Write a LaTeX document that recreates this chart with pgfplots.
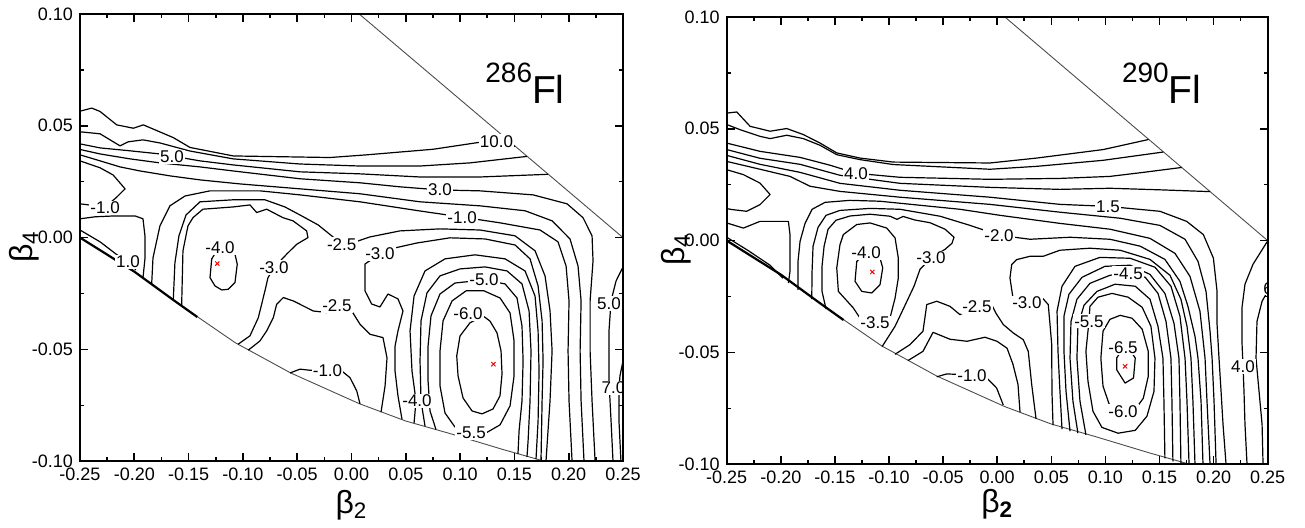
\documentclass[border=0pt]{standalone}
\usepackage{fontspec}
\setmainfont{Liberation Sans}
\usepackage{pgfplots}
\pgfplotsset{compat=1.18}

% contour line and label styles
\tikzset{
  cl/.style={black, line width=0.6pt, line join=round},
  lab/.style={font=\fontsize{8.5}{9}\selectfont, fill=white, inner sep=0.6pt},
}
\pgfplotsset{
  pes/.style={
    anchor=south west, scale only axis, height=223.7pt,
    xmin=-0.25, xmax=0.25, ymin=-0.10, ymax=0.10,
    xtick={-0.25,-0.2,-0.15,-0.1,-0.05,0,0.05,0.1,0.15,0.2,0.25},
    ytick={-0.1,-0.05,0,0.05,0.1},
    minor x tick num=1, minor y tick num=1,
    tick pos=both, tick align=inside,
    major tick length=4pt, minor tick length=2pt,
    scaled ticks=false, axis on top,
    axis line style={line width=1pt},
    every tick/.append style={black, line width=0.8pt},
    tick label style={font=\fontsize{9}{10}\selectfont},
    label style={font=\fontsize{16}{16}\selectfont, anchor=center},
    /pgf/number format/fixed, /pgf/number format/fixed zerofill,
    /pgf/number format/precision=2, /pgf/number format/assume math mode=true,
  },
}
% boundary of the deformation domain
\newcommand\pesframe{%
  \addplot[black!70, line width=0.45pt] coordinates {(0.007,0.10) (0.25,0.0)};
  \addplot[black!70, line width=0.45pt] coordinates {(-0.25,0.0) (-0.20,-0.0152) (-0.164,-0.0279) (-0.14,-0.036) (-0.107,-0.047) (-0.056,-0.0605) (0.007,-0.0742) (0.05,-0.082) (0.09,-0.0875) (0.14,-0.0948) (0.178,-0.10)};
  \addplot[black, line width=1.1pt] coordinates {(-0.25,0.0) (-0.20,-0.0152) (-0.164,-0.0279) (-0.142,-0.0355)};
}
\newcommand\lab[3]{\node[lab] at (axis cs:#1,#2) {#3};}

\begin{document}
\begin{tikzpicture}
\path[use as bounding box] (-40pt,-32.85pt) rectangle (612.5pt,230.65pt);

% ---------------- 286Fl ----------------
\begin{axis}[pes, at={(0pt,0pt)}, width=271.5pt,
  xlabel={β\textsubscript{2}}, ylabel={β\textsubscript{4}},
  xlabel style={at={(axis description cs:0.5,-0.098)}},
  ylabel style={at={(axis description cs:-0.102,0.48)}}]
\pesframe
% upper band
\addplot[cl] coordinates {(-0.25,0.0565) (-0.2392,0.0579) (-0.2316,0.0564) (-0.2162,0.0504) (-0.2009,0.0489) (-0.1917,0.0504) (-0.1641,0.0447) (-0.1487,0.0403) (-0.1088,0.0365) (-0.0198,0.0358) (0.0140,0.0370) (0.0753,0.0395) (0.1165,0.0425) (0.1505,0.0408)};
\addplot[cl] coordinates {(-0.25,0.0473) (-0.2315,0.0464) (-0.2131,0.0410) (-0.2058,0.0428) (-0.1920,0.0437) (-0.1763,0.0423) (-0.1487,0.0387) (-0.1091,0.0352) (-0.0474,0.0329) (0.0078,0.0320) (0.0631,0.0320) (0.1091,0.0334) (0.1616,0.0363)};
\addplot[cl] coordinates {(-0.25,0.0419) (-0.2315,0.0401) (-0.2040,0.0388) (-0.1764,0.0374) (-0.1395,0.0343) (-0.1091,0.0325) (-0.0474,0.0294) (0.0078,0.0285) (0.0631,0.0271) (0.1183,0.0271) (0.1810,0.0283)};
\addplot[cl] coordinates {(-0.25,0.0394) (-0.2315,0.0374) (-0.2040,0.0352) (-0.1764,0.0334) (-0.1395,0.0316) (-0.1091,0.0298) (-0.0474,0.0263) (0.0078,0.0245) (0.0446,0.0227) (0.0815,0.0213) (0.1183,0.0209) (0.1672,0.0191) (0.1985,0.0151) (0.2132,0.0089) (0.2215,0.0008) (0.2224,-0.0104) (0.2197,-0.0283) (0.2197,-0.0507) (0.2215,-0.0730) (0.2243,-0.10)};
\addplot[cl] coordinates {(-0.25,0.0370) (-0.2315,0.0343) (-0.2131,0.0316) (-0.1948,0.0298) (-0.1672,0.0276) (-0.1395,0.0258) (-0.1027,0.0240) (-0.0474,0.0218) (0.0078,0.0196) (0.0631,0.0160) (0.1183,0.0142) (0.1598,0.0120) (0.1847,0.0075) (0.2012,-0.0006) (0.2086,-0.0127) (0.2114,-0.0283) (0.2105,-0.0507) (0.2114,-0.0730) (0.2141,-0.10)};
\addplot[cl] coordinates {(-0.25,0.0343) (-0.2315,0.0312) (-0.2195,0.0280) (-0.2085,0.0218) (-0.2168,0.0178) (-0.2269,0.0137) (-0.25,0.0151)};
\addplot[cl] coordinates {(-0.25,0.0084) (-0.2361,0.0093) (-0.2177,0.0097) (-0.1993,0.0097) (-0.1920,0.0084) (-0.1902,0.0008) (-0.1902,-0.0095) (-0.1920,-0.0180)};
\addplot[cl] coordinates {(-0.25,0.0034) (-0.2315,-0.0019) (-0.2159,-0.0077) (-0.2058,-0.0109) (-0.1985,-0.0145)};
\addplot[cl] coordinates {(-0.1840,-0.0208) (-0.1828,-0.0091) (-0.1764,0.0052) (-0.1672,0.0142) (-0.1533,0.0186) (-0.1303,0.0209) (-0.0843,0.0209) (-0.0474,0.0191) (0.0078,0.0160) (0.0631,0.0119) (0.0999,0.0093) (0.1368,0.0066) (0.1736,0.0034) (0.1902,-0.0019) (0.1976,-0.0127) (0.2003,-0.0283) (0.1994,-0.0507) (0.2003,-0.0730) (0.2031,-0.10)};
\addplot[cl] coordinates {(-0.1641,-0.0278) (-0.1626,-0.0113) (-0.1589,0.0008) (-0.1524,0.0101) (-0.1395,0.0160) (-0.1091,0.0169) (-0.0797,0.0169) (-0.0613,0.0137) (-0.0474,0.0101) (-0.0308,0.0057) (-0.0170,0.0003) (-0.0090,-0.0028) (0.0005,-0.0024) (0.0170,0.0003) (0.0446,0.0030) (0.0815,0.0039) (0.1183,0.0034) (0.1506,0.0008) (0.1690,-0.0059) (0.1782,-0.0171) (0.1828,-0.0327) (0.1847,-0.0506) (0.1828,-0.0730) (0.1791,-0.0998)};
% left minimum
\addplot[cl] coordinates {(-0.1564,-0.0303) (-0.1552,-0.0059) (-0.1506,0.0052) (-0.1460,0.0089) (-0.1368,0.0127) (-0.1091,0.0137) (-0.0935,0.0146) (-0.0873,0.0112) (-0.0781,0.0127) (-0.0631,0.0089) (-0.0539,0.0075) (-0.0413,0.0030) (-0.0401,0.0000) (-0.0505,-0.0030) (-0.0597,-0.0074) (-0.0714,-0.0134) (-0.0769,-0.0179) (-0.0797,-0.0238) (-0.0858,-0.0358) (-0.0935,-0.0439) (-0.1045,-0.0477)};
\addplot[cl] coordinates {(-0.1211,-0.0037) (-0.1287,-0.0095) (-0.1303,-0.0179) (-0.1257,-0.0216) (-0.1195,-0.0234) (-0.1135,-0.0231) (-0.1073,-0.0201) (-0.1052,-0.0119) (-0.1073,-0.0074) (-0.1137,-0.0046) (-0.1211,-0.0037)};
\addplot[cl] coordinates {(-0.0950,-0.0503) (-0.0843,-0.0462) (-0.0781,-0.0417) (-0.0720,-0.0358) (-0.0689,-0.0298) (-0.0628,-0.0268) (-0.0536,-0.0283) (-0.0352,-0.0328) (-0.0228,-0.0335) (-0.0134,-0.0305) (0.0002,-0.0328) (0.0078,-0.0387) (0.0170,-0.0432) (0.0290,-0.0447) (0.0327,-0.0538) (0.0309,-0.0663) (0.0272,-0.0780)};
\addplot[cl] coordinates {(-0.0566,-0.0605) (-0.0474,-0.0588) (-0.0382,-0.0593) (-0.0221,-0.0596) (-0.0090,-0.0596) (-0.0014,-0.0626) (0.0048,-0.0685) (0.0078,-0.0743)};
% right well
\addplot[cl] coordinates {(0.0465,-0.0812) (0.0428,-0.0708) (0.0401,-0.0597) (0.0401,-0.0485) (0.0428,-0.0417) (0.0474,-0.0328) (0.0428,-0.0274) (0.0336,-0.0252) (0.0262,-0.0310) (0.0186,-0.0297) (0.0124,-0.0238) (0.0124,-0.0118) (0.0262,-0.0073) (0.0401,-0.0046) (0.0603,-0.0024) (0.0907,-0.0001) (0.1230,-0.0006) (0.1506,-0.0033) (0.1644,-0.0095) (0.1718,-0.0216) (0.1755,-0.0372) (0.1764,-0.0551) (0.1755,-0.0730) (0.1745,-0.0994)};
\addplot[cl] coordinates {(0.0576,-0.0829) (0.0594,-0.0730) (0.0557,-0.0596) (0.0539,-0.0417) (0.0576,-0.0261) (0.0677,-0.0149) (0.0861,-0.0095) (0.1137,-0.0077) (0.1414,-0.0095) (0.1598,-0.0149) (0.1690,-0.0261) (0.1718,-0.0417) (0.1727,-0.0596) (0.1718,-0.0820) (0.1699,-0.0990)};
\addplot[cl] coordinates {(0.0677,-0.0843) (0.0640,-0.0730) (0.0631,-0.0551) (0.0640,-0.0372) (0.0695,-0.0247) (0.0815,-0.0171) (0.0999,-0.0140) (0.1230,-0.0131) (0.1432,-0.0149) (0.1570,-0.0207) (0.1635,-0.0328) (0.1653,-0.0507) (0.1644,-0.0730) (0.1626,-0.0909) (0.1616,-0.0980)};
\addplot[cl] coordinates {(0.0778,-0.0858) (0.0723,-0.0775) (0.0705,-0.0641) (0.0705,-0.0484) (0.0732,-0.0350) (0.0815,-0.0252) (0.0953,-0.0203) (0.1220,-0.0189) (0.1414,-0.0207) (0.1524,-0.0270) (0.1570,-0.0395) (0.1580,-0.0551) (0.1570,-0.0730) (0.1543,-0.0864) (0.1533,-0.0967)};
\addplot[cl] coordinates {(0.1101,-0.0873) (0.0953,-0.0847) (0.0861,-0.0784) (0.0815,-0.0663) (0.0815,-0.0507) (0.0843,-0.0372) (0.0926,-0.0283) (0.1055,-0.0238) (0.1220,-0.0238) (0.1368,-0.0270) (0.1460,-0.0337) (0.1497,-0.0462) (0.1497,-0.0618) (0.1460,-0.0752) (0.1368,-0.0837) (0.1239,-0.0873) (0.1101,-0.0873)};
\addplot[cl] coordinates {(0.1211,-0.0350) (0.1091,-0.0381) (0.0999,-0.0440) (0.0969,-0.0529) (0.0981,-0.0618) (0.1027,-0.0717) (0.1110,-0.0775) (0.1202,-0.0788) (0.1303,-0.0766) (0.1367,-0.0708) (0.1386,-0.0610) (0.1377,-0.0507) (0.1340,-0.0426) (0.1275,-0.0373) (0.1211,-0.0350)};
% steep right edge
\addplot[cl] coordinates {(0.25,-0.0131) (0.2436,-0.0194) (0.2390,-0.0283) (0.2371,-0.0417) (0.2371,-0.0641) (0.2390,-0.0820) (0.2408,-0.10)};
\addplot[cl] coordinates {(0.25,-0.0551) (0.2472,-0.0618) (0.2463,-0.0672) (0.2463,-0.0820) (0.2481,-0.10)};
% minima
\addplot[only marks, mark=x, red, mark size=1.5pt, mark options={line width=0.5pt}] coordinates {(-0.1236,-0.0116) (0.1307,-0.0566)};
\lab{0.1335}{0.0430}{10.0}
\lab{-0.1653}{0.0361}{5.0}
\lab{0.0815}{0.0213}{3.0}
\lab{0.1018}{0.0088}{-1.0}
\lab{-0.2269}{0.0133}{-1.0}
\lab{-0.2058}{-0.0109}{1.0}
\lab{-0.1211}{-0.0045}{-4.0}
\lab{-0.0714}{-0.0134}{-3.0}
\lab{-0.0090}{-0.0030}{-2.5}
\lab{0.0262}{-0.0073}{-3.0}
\lab{-0.0134}{-0.0305}{-2.5}
\lab{-0.0221}{-0.0596}{-1.0}
\lab{0.0603}{-0.0730}{-4.0}
\lab{0.1220}{-0.0189}{-5.0}
\lab{0.1073}{-0.0341}{-6.0}
\lab{0.1101}{-0.0873}{-5.5}
\lab{0.2370}{-0.0295}{5.0}
\node[lab, anchor=east] at (axis cs:0.2535,-0.0672) {7.0};
\node[anchor=base west, inner sep=0pt] at (axis cs:0.1229,0.0598) {\raisebox{10.5pt}{\fontsize{14}{14}\selectfont 286}\fontsize{19.5}{20}\selectfont Fl};
\end{axis}

% ---------------- 290Fl ----------------
\begin{axis}[pes, at={(323.35pt,-1.5pt)}, width=270.5pt,
  xlabel={β\textsubscript{\bfseries 2}}, ylabel={β\textsubscript{4}},
  xlabel style={at={(axis description cs:0.5,-0.089)}},
  ylabel style={at={(axis description cs:-0.093,0.48)}}]
\pesframe
\addplot[cl] coordinates {(-0.25,0.0570) (-0.2407,0.0575) (-0.2284,0.0511) (-0.2099,0.0489) (-0.1945,0.0501) (-0.1792,0.0474) (-0.1637,0.0436) (-0.1483,0.0392) (-0.1268,0.0369) (-0.0960,0.0351) (-0.0067,0.0347) (0.0365,0.0369) (0.0980,0.0407) (0.1399,0.0452)};
\addplot[cl] coordinates {(-0.25,0.0519) (-0.2377,0.0496) (-0.2192,0.0466) (-0.2099,0.0456) (-0.1945,0.0471) (-0.1792,0.0456) (-0.1637,0.0426) (-0.1483,0.0384) (-0.1268,0.0362) (-0.0960,0.0340) (-0.0067,0.0319) (0.0365,0.0332) (0.0980,0.0359) (0.1535,0.0396)};
\addplot[cl] coordinates {(-0.25,0.0436) (-0.2192,0.0399) (-0.1822,0.0372) (-0.1545,0.0337) (-0.1305,0.0301) (-0.0898,0.0283) (-0.0067,0.0274) (0.0580,0.0278) (0.1042,0.0287) (0.1350,0.0305) (0.1705,0.0327)};
\addplot[cl] coordinates {(-0.25,0.0407) (-0.2192,0.0368) (-0.1822,0.0341) (-0.1453,0.0292) (-0.0898,0.0256) (-0.0067,0.0238) (0.0580,0.0229) (0.1042,0.0234) (0.1504,0.0227) (0.1967,0.0219)};
\addplot[cl] coordinates {(-0.25,0.0381) (-0.2192,0.0341) (-0.1822,0.0305) (-0.1453,0.0256) (-0.0898,0.0225) (-0.0067,0.0194) (0.0580,0.0162) (0.1024,0.0153) (0.1504,0.0131) (0.1751,0.0086) (0.1905,0.0027) (0.1998,-0.0078) (0.2032,-0.0227) (0.2032,-0.0374) (0.2050,-0.0526) (0.2069,-0.0674) (0.2087,-0.0821) (0.2115,-0.10)};
\addplot[cl] coordinates {(-0.25,0.0354) (-0.2192,0.0319) (-0.1915,0.0287) (-0.1730,0.0243) (-0.1453,0.0220) (-0.0898,0.0194) (-0.0067,0.0162) (0.0580,0.0127) (0.1136,0.0100) (0.1504,0.0068) (0.1736,0.0006) (0.1856,-0.0093) (0.1930,-0.0227) (0.1967,-0.0405) (0.1986,-0.0526) (0.2004,-0.0718) (0.2023,-0.10)};
\addplot[cl] coordinates {(-0.25,0.0317) (-0.2346,0.0295) (-0.2192,0.0257) (-0.2099,0.0206) (-0.2192,0.0161) (-0.2315,0.0131) (-0.2453,0.0139) (-0.25,0.0143)};
\addplot[cl] coordinates {(-0.25,0.0079) (-0.2346,0.0056) (-0.2192,0.0086) (-0.1930,0.0086) (-0.1915,0.0027) (-0.1915,-0.0137) (-0.1930,-0.0190)};
\addplot[cl] coordinates {(-0.25,0.0015) (-0.23,-0.0045) (-0.21,-0.0110) (-0.198,-0.0168)};
\addplot[cl] coordinates {(-0.1841,-0.0220) (-0.1841,-0.0093) (-0.1822,-0.0003) (-0.1776,0.0077) (-0.1711,0.0140) (-0.1591,0.0171) (-0.1360,0.0180) (-0.1083,0.0176) (-0.0713,0.0158) (-0.0344,0.0140) (0.0026,0.0113) (0.0580,0.0077) (0.1042,0.0051) (0.1412,0.0010) (0.1643,-0.0057) (0.1782,-0.0160) (0.1874,-0.0316) (0.1921,-0.0526) (0.1939,-0.0718) (0.1967,-0.10)};
\addplot[cl] coordinates {(-0.1714,-0.0262) (-0.1711,-0.0137) (-0.1702,-0.0025) (-0.1656,0.0059) (-0.1582,0.0113) (-0.1453,0.0135) (-0.1175,0.0144) (-0.0898,0.0140) (-0.0528,0.0109) (-0.0251,0.0068) (0.0017,0.0024) (0.0303,0.0006) (0.0673,0.0015) (0.1042,0.0006) (0.1322,-0.0025) (0.1550,-0.0084) (0.1689,-0.0182) (0.1763,-0.0294) (0.1828,-0.0428) (0.1856,-0.0526) (0.1884,-0.0718) (0.1902,-0.10)};
% left minimum
\addplot[cl] coordinates {(-0.1582,-0.0306) (-0.1619,-0.0227) (-0.1619,-0.0115) (-0.1600,-0.0025) (-0.1563,0.0051) (-0.1490,0.0091) (-0.1360,0.0110) (-0.1175,0.0118) (-0.0991,0.0109) (-0.0926,0.0095) (-0.0870,0.0108) (-0.0760,0.0092) (-0.0621,0.0080) (-0.0482,0.0051) (-0.0399,0.0015) (-0.0418,-0.0012) (-0.0482,-0.0039) (-0.0612,-0.0078) (-0.0713,-0.0128) (-0.0769,-0.0204) (-0.0843,-0.0280) (-0.0944,-0.0383) (-0.1064,-0.0474)};
\addplot[cl] coordinates {(-0.1422,0.0027) (-0.1298,0.0072) (-0.1175,0.0079) (-0.1021,0.0056) (-0.0944,0.0012) (-0.0914,-0.0078) (-0.0914,-0.0167) (-0.0944,-0.0257) (-0.0991,-0.0346) (-0.1129,-0.0368) (-0.1268,-0.0346) (-0.1330,-0.0301) (-0.1468,-0.0227) (-0.1483,-0.0122) (-0.1453,-0.0018) (-0.1422,0.0027)};
\addplot[cl] coordinates {(-0.1212,-0.0055) (-0.1298,-0.0093) (-0.1314,-0.0182) (-0.1252,-0.0227) (-0.1160,-0.0234) (-0.1083,-0.0197) (-0.1058,-0.0122) (-0.1083,-0.0078) (-0.1138,-0.0057) (-0.1212,-0.0055)};
\addplot[cl] coordinates {(-0.0944,-0.0508) (-0.0806,-0.0465) (-0.0686,-0.0405) (-0.0651,-0.0286) (-0.0559,-0.0271) (-0.0436,-0.0294) (-0.0344,-0.0331) (-0.0187,-0.0294) (-0.0051,-0.0286) (-0.0011,-0.0325) (0.0056,-0.0375) (0.0149,-0.0413) (0.0241,-0.0443) (0.0287,-0.0495) (0.0319,-0.0644) (0.0359,-0.0797)};
\addplot[cl] coordinates {(-0.0824,-0.0536) (-0.0686,-0.0495) (-0.0593,-0.0410) (-0.0436,-0.0441) (-0.0279,-0.0450) (-0.0113,-0.0432) (-0.0002,-0.0450) (0.0091,-0.0481) (0.0146,-0.0553) (0.0192,-0.0642) (0.0211,-0.0767)};
\addplot[cl] coordinates {(-0.0559,-0.0609) (-0.0467,-0.0596) (-0.0362,-0.0598) (-0.0233,-0.0602) (-0.0097,-0.0614) (-0.0005,-0.0659) (0.0056,-0.0735)};
% right well
\addplot[cl] coordinates {(0.0516,-0.0825) (0.0506,-0.0674) (0.0504,-0.0465) (0.0488,-0.0375) (0.0472,-0.0286) (0.0411,-0.0253) (0.0275,-0.0279) (0.0146,-0.0257) (0.0118,-0.0167) (0.0134,-0.0107) (0.0180,-0.0085) (0.0303,-0.0070) (0.0426,-0.0070) (0.0580,-0.0043) (0.0857,-0.0034) (0.1136,-0.0043) (0.1412,-0.0084) (0.1597,-0.0155) (0.1698,-0.0262) (0.1754,-0.0383) (0.1791,-0.0526) (0.1809,-0.0718) (0.1828,-0.10)};
\addplot[cl] coordinates {(0.0599,-0.0843) (0.0580,-0.0674) (0.0562,-0.0496) (0.0553,-0.0316) (0.0599,-0.0204) (0.0719,-0.0115) (0.0949,-0.0075) (0.1229,-0.0079) (0.1458,-0.0119) (0.1606,-0.0204) (0.1689,-0.0338) (0.1736,-0.0526) (0.1754,-0.0718) (0.1773,-0.10)};
\addplot[cl] coordinates {(0.0673,-0.0852) (0.0636,-0.0674) (0.0617,-0.0495) (0.0617,-0.0338) (0.0663,-0.0240) (0.0784,-0.0164) (0.0996,-0.0115) (0.1229,-0.0110) (0.1412,-0.0151) (0.1550,-0.0236) (0.1634,-0.0370) (0.1680,-0.0526) (0.1689,-0.0718) (0.1698,-0.0996)};
\addplot[cl] coordinates {(0.0746,-0.0861) (0.0700,-0.0718) (0.0673,-0.0526) (0.0682,-0.0361) (0.0737,-0.0262) (0.0857,-0.0191) (0.1042,-0.0155) (0.1210,-0.0146) (0.1368,-0.0164) (0.1486,-0.0236) (0.1560,-0.0361) (0.1606,-0.0526) (0.1615,-0.0718) (0.1624,-0.0987)};
\addplot[cl] coordinates {(0.0820,-0.0868) (0.0765,-0.0718) (0.0737,-0.0526) (0.0746,-0.0383) (0.0802,-0.0289) (0.0922,-0.0227) (0.1089,-0.0195) (0.1276,-0.0204) (0.1412,-0.0262) (0.1486,-0.0383) (0.1532,-0.0526) (0.1541,-0.0718) (0.1550,-0.0973)};
\addplot[cl] coordinates {(0.0848,-0.0361) (0.0857,-0.0294) (0.0931,-0.0253) (0.1061,-0.0236) (0.1210,-0.0253) (0.1340,-0.0298) (0.1421,-0.0383) (0.1458,-0.0526) (0.1449,-0.0674) (0.1384,-0.0785) (0.1276,-0.0848) (0.1117,-0.0861) (0.0968,-0.0835) (0.0885,-0.0763) (0.0839,-0.0629) (0.0820,-0.0495) (0.0848,-0.0361)};
\addplot[cl] coordinates {(0.1163,-0.0763) (0.1042,-0.0741) (0.0978,-0.0651) (0.0958,-0.0526) (0.0978,-0.0405) (0.1042,-0.0352) (0.1136,-0.0334) (0.1247,-0.0347) (0.1340,-0.0396) (0.1396,-0.0495) (0.1396,-0.0607) (0.1350,-0.0705) (0.1276,-0.0754) (0.1163,-0.0763)};
\addplot[cl] coordinates {(0.1163,-0.0481) (0.1104,-0.0525) (0.1104,-0.0577) (0.1182,-0.0637) (0.1260,-0.0614) (0.1276,-0.0525) (0.1229,-0.0490) (0.1163,-0.0481)};
% steep right edge
\addplot[cl] coordinates {(0.2495,-0.0005) (0.2364,-0.0106) (0.2290,-0.0195) (0.2262,-0.0301) (0.2262,-0.0450) (0.2272,-0.0562) (0.2281,-0.0674) (0.2290,-0.0821) (0.2309,-0.10)};
\addplot[cl] coordinates {(0.25,-0.0227) (0.2448,-0.0271) (0.2401,-0.0361) (0.2392,-0.0526) (0.2420,-0.0674) (0.2448,-0.0821) (0.2457,-0.10)};
\addplot[only marks, mark=x, red, mark size=1.5pt, mark options={line width=0.5pt}] coordinates {(-0.1154,-0.0140) (0.1182,-0.0562)};
\lab{-0.1305}{0.0301}{4.0}
\lab{0.1024}{0.0153}{1.5}
\lab{0.0017}{0.0024}{-2.0}
\lab{-0.1212}{-0.0055}{-4.0}
\lab{-0.0612}{-0.0078}{-3.0}
\lab{-0.1129}{-0.0368}{-3.5}
\lab{-0.0187}{-0.0294}{-2.5}
\lab{0.0275}{-0.0279}{-3.0}
\lab{-0.0233}{-0.0602}{-1.0}
\lab{0.1210}{-0.0146}{-4.5}
\lab{0.0848}{-0.0361}{-5.5}
\lab{0.1163}{-0.0477}{-6.5}
\lab{0.1163}{-0.0763}{-6.0}
\lab{0.2272}{-0.0562}{4.0}
\node[lab, anchor=west] at (axis cs:0.2445,-0.0213) {6};
\node[anchor=base west, inner sep=0pt] at (axis cs:0.1150,0.0615) {\raisebox{10.5pt}{\fontsize{14}{14}\selectfont 290}\fontsize{19.5}{20}\selectfont Fl};
\end{axis}
\end{tikzpicture}
\end{document}
